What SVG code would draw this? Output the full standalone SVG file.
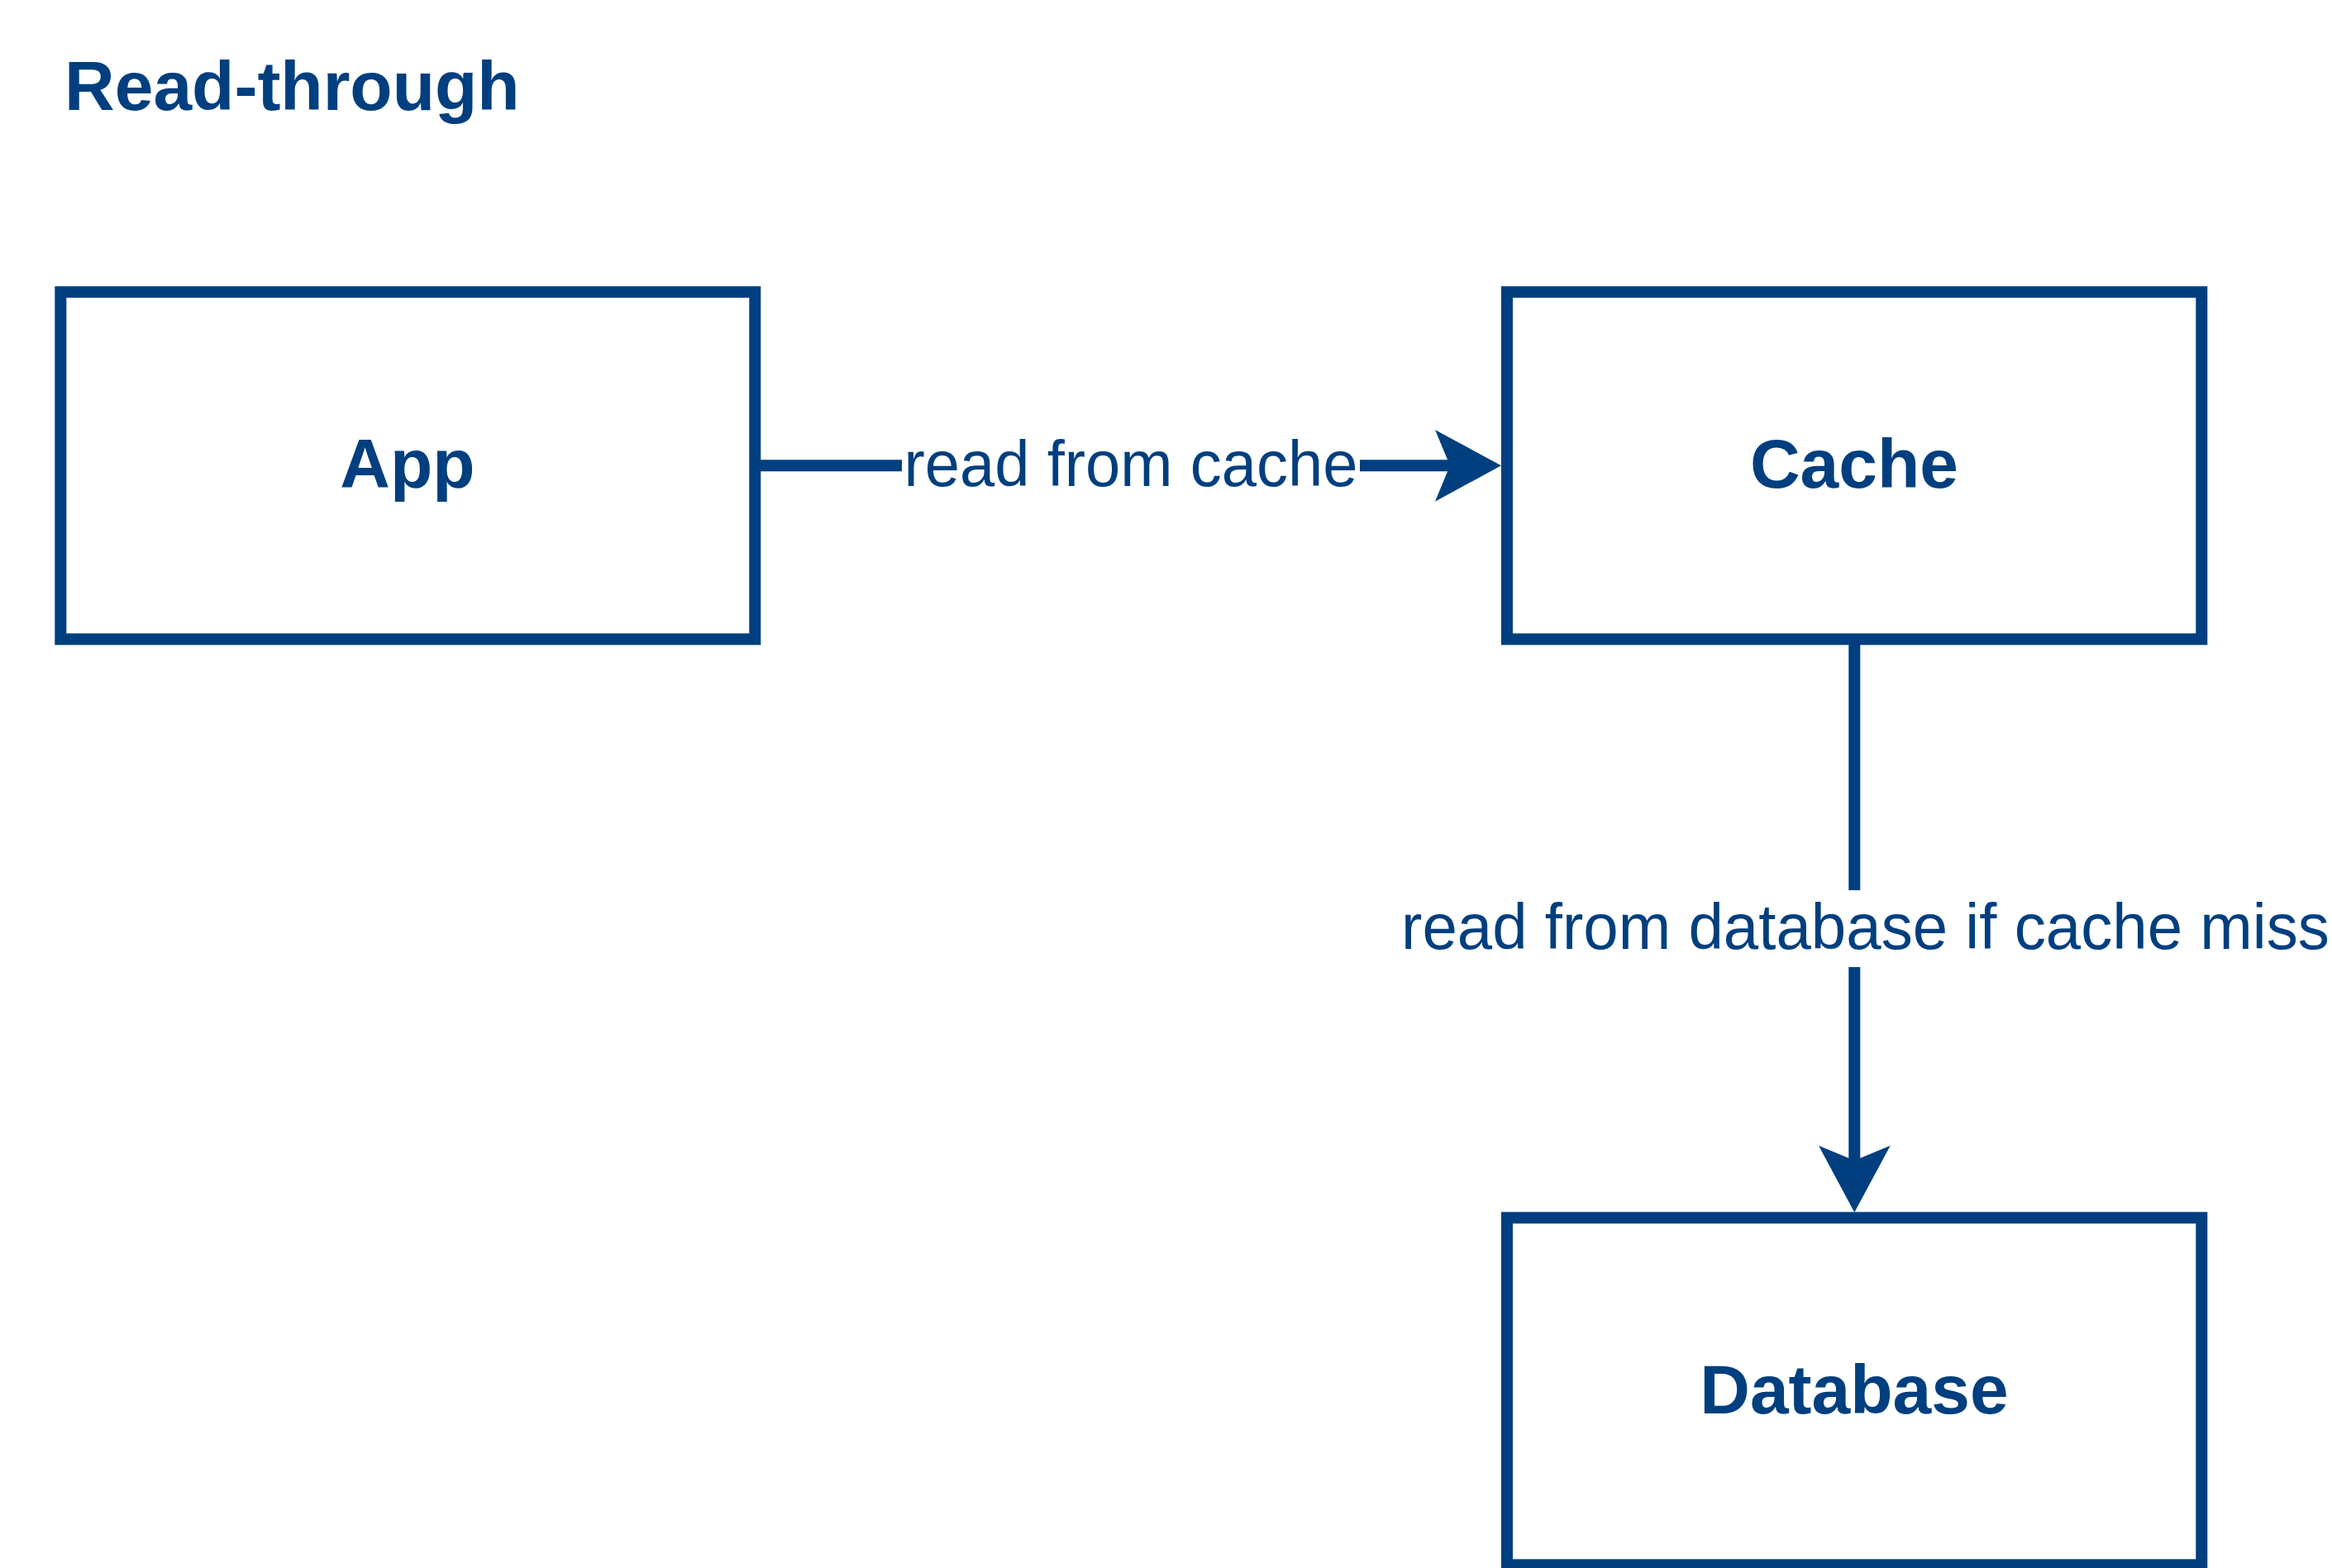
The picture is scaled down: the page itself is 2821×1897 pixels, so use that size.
<svg xmlns="http://www.w3.org/2000/svg" width="2821" height="1897" viewBox="0 0 2821 1897">
<style>
.box{fill:#ffffff;stroke:#003f7f;stroke-width:14}
.bold{font-family:"Liberation Sans",Arial,sans-serif;font-weight:bold;font-size:84px;fill:#003f7f;text-anchor:middle}
.title{font-family:"Liberation Sans",Arial,sans-serif;font-weight:bold;font-size:84px;fill:#003f7f}
.lbl{font-family:"Liberation Sans",Arial,sans-serif;font-size:78px;fill:#003f7f}
.edge{stroke:#003f7f;stroke-width:14;fill:none}
.head{fill:#003f7f}
.bg{fill:#ffffff}
</style>
<rect width="2821" height="1897" fill="#ffffff"/>
<text class="title" x="78" y="133">Read-through</text>
<g id="app">
<rect class="box" x="73.3" y="353.3" width="840" height="420"/>
<text class="bold" x="493" y="590">App</text>
</g>
<g id="cache">
<rect class="box" x="1823" y="353.3" width="840.3" height="420"/>
<text class="bold" x="2243" y="590">Cache</text>
</g>
<g id="database">
<rect class="box" x="1823" y="1473.3" width="840.3" height="420"/>
<text class="bold" x="2243" y="1710">Database</text>
</g>
<g id="connectors">
<g id="edge-app-cache">
<line class="edge" x1="920" y1="563.3" x2="1760" y2="563.3"/>
<polygon class="head" points="1816,563.3 1736,520 1754,563.3 1736,606.7"/>
<rect class="bg" x="1091" y="517" width="554" height="92"/>
<text class="lbl" x="1368" y="588" text-anchor="middle" textLength="549" lengthAdjust="spacingAndGlyphs">read from cache</text>
</g>
<g id="edge-cache-db">
<line class="edge" x1="2243.3" y1="780" x2="2243.3" y2="1410"/>
<polygon class="head" points="2243.3,1466.7 2200,1386 2243.3,1404 2286.7,1386"/>
<rect class="bg" x="1690" y="1077" width="1131" height="93"/>
<text class="lbl" x="1695" y="1148" textLength="1123" lengthAdjust="spacingAndGlyphs">read from database if cache miss</text>
</g>
</g>
</svg>
